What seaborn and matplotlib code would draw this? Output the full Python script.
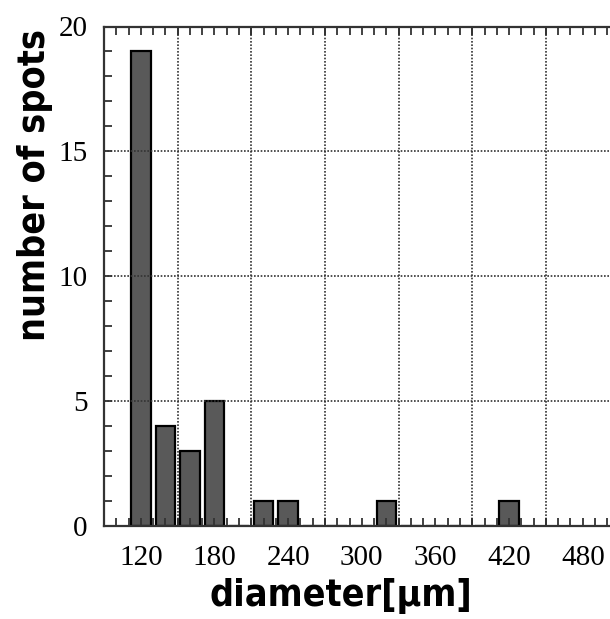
import matplotlib
matplotlib.use("Agg")
import matplotlib.pyplot as plt
import matplotlib.ticker as mticker
import seaborn as sns

# histogram of spot diameters (bin centre, count)
diameters = [120, 140, 160, 180, 220, 240, 320, 420]
counts = [19, 4, 3, 5, 1, 1, 1, 1]
x_tick_labels = [120, 180, 240, 300, 360, 420, 480]
x_grid = [150, 210, 270, 330, 390, 450]
y_ticks = [0, 5, 10, 15, 20]

sns.set_style("ticks")
plt.rcParams["font.family"] = ["Liberation Serif", "DejaVu Serif"]

fig = plt.figure(figsize=(6.1, 6.19), dpi=100)
ax = fig.add_axes([104 / 610, 1 - 526 / 619, 515.6 / 610, 499.5 / 619])

sns.histplot(x=diameters, weights=counts, binwidth=20, binrange=(110, 430),
             shrink=0.8, color="#595959", alpha=1, edgecolor="black",
             linewidth=1.6, ax=ax)

ax.set_xlim(90, 510)
ax.set_ylim(0, 20)

# vertical grid sits on the major ticks, labels live on the minor ticks
ax.xaxis.set_major_locator(mticker.FixedLocator(x_grid))
ax.xaxis.set_major_formatter(mticker.NullFormatter())
ax.xaxis.set_minor_locator(mticker.MultipleLocator(10))
ax.xaxis.set_minor_formatter(mticker.FuncFormatter(
    lambda v, p: f"{int(round(v))}" if int(round(v)) in x_tick_labels else ""))
ax.xaxis.remove_overlapping_locs = False

ax.yaxis.set_major_locator(mticker.FixedLocator(y_ticks))
ax.yaxis.set_minor_locator(mticker.MultipleLocator(1))

ax.tick_params(axis="x", which="both", direction="in", top=True, bottom=True,
               length=6, width=1.3, color="#333333", labelsize=21, pad=14,
               labelcolor="black")
ax.tick_params(axis="y", which="both", direction="in", left=True, right=False,
               length=6, width=1.3, color="#333333", labelsize=21, pad=12,
               labelcolor="black")

ax.grid(True, which="major", linestyle=(0, (1, 1)), color="#333333", linewidth=1.2)
ax.set_axisbelow(False)
for side in ["left", "bottom", "top"]:
    ax.spines[side].set_linewidth(1.6)
    ax.spines[side].set_color("#333333")

label_font = dict(family="DejaVu Sans", fontstretch="condensed",
                  fontweight="heavy", fontsize=27, color="black")
ax.set_xlabel("diameter[μm]", **label_font)
ax.set_ylabel("number of spots", **label_font)
ax.xaxis.set_label_coords(0.46, -0.105)
ax.yaxis.set_label_coords(-0.098, 0.683)

fig.savefig("out.png", dpi=100)
